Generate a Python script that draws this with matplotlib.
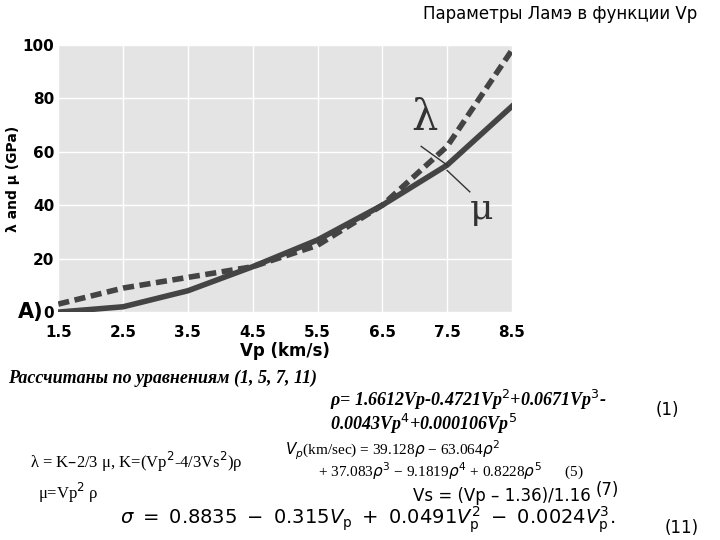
import matplotlib
matplotlib.use("Agg")
import matplotlib.pyplot as plt

vp = [1.5, 2.5, 3.5, 4.5, 5.5, 6.5, 7.5, 8.5]
lam = [3, 9, 13, 17, 25, 40, 62, 98]
mu = [0, 2, 8, 17, 27, 40, 55, 77]
xticks = [1.5, 2.5, 3.5, 4.5, 5.5, 6.5, 7.5, 8.5]
yticks = [0, 20, 40, 60, 80, 100]

fig = plt.figure(figsize=(7.2, 5.4), dpi=100)
ax = fig.add_axes([0.081, 0.422, 0.630, 0.495])
ax.set_facecolor("#e4e4e4")
ax.plot(vp, lam, color="#444444", lw=4, ls=(0, (2, 1)))
ax.plot(vp, mu, color="#444444", lw=4)
ax.set_xlim(1.5, 8.5)
ax.set_ylim(0, 100)
ax.set_xticks(xticks)
ax.set_yticks(yticks)
ax.grid(True, color="white", lw=1)
for s in ax.spines.values():
    s.set_visible(False)
ax.tick_params(length=0, labelsize=11, pad=3)
ax.tick_params(axis="x", pad=9)
for t in ax.get_xticklabels() + ax.get_yticklabels():
    t.set_fontweight("bold")
ax.set_xlabel("Vp (km/s)", fontsize=12, fontweight="bold", labelpad=2)
ax.set_ylabel("λ and μ (GPa)", fontsize=10, fontweight="bold", labelpad=2)
ax.text(6.95, 68, "λ", fontsize=30, color="#333333", family="DejaVu Serif")
ax.plot([7.1, 7.5], [62, 55], color="#333333", lw=1)
ax.text(7.85, 35, "μ", fontsize=26, color="#333333", family="DejaVu Serif")
ax.plot([7.85, 7.5], [45, 53], color="#333333", lw=1)

fig.text(18/720, 1 - 312/540, "A)", fontsize=15, fontweight="bold", va="center")
fig.text(560/720, 1 - 14/540, "Параметры Ламэ в функции Vp", fontsize=12, ha="center", va="center")
fig.text(8/720, 1 - 378/540, "Рассчитаны по уравнениям (1, 5, 7, 11)", fontsize=13,
         family="Liberation Serif", style="italic", fontweight="bold", va="center")
fig.text(330/720, 1 - 400/540, r"ρ= 1.6612Vp-0.4721Vp$^2$+0.0671Vp$^3$-", fontsize=13,
         family="Liberation Serif", style="italic", fontweight="bold", va="center")
fig.text(330/720, 1 - 424/540, r"0.0043Vp$^4$+0.000106Vp$^5$", fontsize=13,
         family="Liberation Serif", style="italic", fontweight="bold", va="center")
fig.text(656/720, 1 - 410/540, "(1)", fontsize=12, va="center")
fig.text(285/720, 1 - 450/540, r"$V_p$(km/sec) = 39.128$\rho$ − 63.064$\rho^2$", fontsize=11,
         family="Liberation Serif", va="center")
fig.text(318/720, 1 - 471/540, r"+ 37.083$\rho^3$ − 9.1819$\rho^4$ + 0.8228$\rho^5$      (5)", fontsize=11,
         family="Liberation Serif", va="center")
fig.text(30/720, 1 - 462/540, r"λ = K–2/3 μ, K=(Vp$^2$-4/3Vs$^2$)ρ", fontsize=12,
         family="Liberation Serif", va="center")
fig.text(38/720, 1 - 493/540, r"μ=Vp$^2$ ρ", fontsize=12, family="Liberation Serif", va="center")
fig.text(413/720, 1 - 496/540, "Vs = (Vp – 1.36)/1.16", fontsize=12, va="center")
fig.text(596/720, 1 - 490/540, "(7)", fontsize=12, va="center")
fig.text(120/720, 1 - 520/540,
         r"$\sigma\ =\ 0.8835\ -\ 0.315V_{\rm p}\ +\ 0.0491V_{\rm p}^2\ -\ 0.0024V_{\rm p}^3.$",
         fontsize=14, va="center")
fig.text(665/720, 1 - 528/540, "(11)", fontsize=12, va="center")

fig.savefig("out.png", dpi=100)
